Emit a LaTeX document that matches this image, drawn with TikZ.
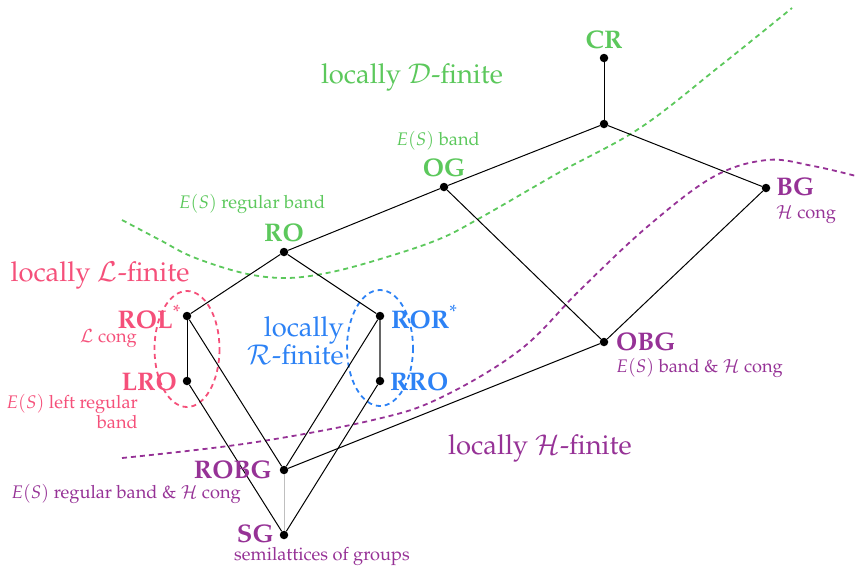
\documentclass[tikz,border=0pt]{standalone}
\usepackage[T1]{fontenc}
\usepackage{mathpazo}
\usetikzlibrary{positioning}
\definecolor{cgreen}{RGB}{92,200,92}
\definecolor{cpink}{RGB}{245,80,122}
\definecolor{cblue}{RGB}{45,130,245}
\definecolor{cpurple}{RGB}{150,50,150}
\tikzset{
  dot/.style={circle,fill=black,inner sep=0pt,minimum size=8.5pt},
  edge/.style={draw=black,line width=1pt},
  bold/.style={font=\fontsize{25.5}{27}\selectfont\bfseries,inner sep=0pt},
  small/.style={font=\fontsize{18.2}{20}\selectfont,inner sep=0pt},
  big/.style={font=\fontsize{27.4}{28}\selectfont,inner sep=0pt},
  bound/.style={line width=1.8pt,dash pattern=on 5pt off 4pt},
}
\begin{document}
\begin{tikzpicture}[x=1pt,y=-1pt]
\useasboundingbox (0,0) rectangle (858,566);
% boundaries
\draw[bound,cgreen] plot[smooth,tension=0.6] coordinates {(122,220) (160,240) (193,257) (243,273) (285,278) (327,273) (377,260) (437,240) (480,218) (560,172) (640,128) (720,66) (792,8)};
\draw[bound,cpurple] plot[smooth,tension=0.6] coordinates {(122,458) (250,443) (373,420) (440,398) (520,350) (580,290) (647,227) (713,177) (767,160) (813,166) (856,176)};
\draw[bound,cpink] (187,349) ellipse [x radius=32.5,y radius=58];
\draw[bound,cblue] (380,348) ellipse [x radius=33,y radius=58];
% nodes
\node[dot] (CR) at (604,58) {};
\node[dot] (J) at (604,124) {};
\node[dot] (OG) at (444,187) {};
\node[dot] (BG) at (766,188) {};
\node[dot] (RO) at (284,252) {};
\node[dot] (ROL) at (187,316) {};
\node[dot] (ROR) at (380,316) {};
\node[dot] (LRO) at (187,381) {};
\node[dot] (RRO) at (380,381) {};
\node[dot] (OBG) at (604,342) {};
\node[dot] (ROBG) at (284,470) {};
\node[dot] (SG) at (284,535) {};
% edges
\draw[edge] (CR) -- (J);
\draw[edge] (J) -- (OG);
\draw[edge] (J) -- (BG);
\draw[edge] (OG) -- (RO);
\draw[edge] (OG) -- (OBG);
\draw[edge] (BG) -- (OBG);
\draw[edge] (RO) -- (ROL);
\draw[edge] (RO) -- (ROR);
\draw[edge] (ROL) -- (LRO);
\draw[edge,draw=black!60,line width=1.4pt] (ROR) -- (RRO);
\draw[edge] (ROL) -- (ROBG);
\draw[edge] (LRO) -- (SG);
\draw[edge] (ROR) -- (ROBG);
\draw[edge] (RRO) -- (SG);
\draw[edge] (ROBG) -- (OBG);
\draw[edge,draw=black!25] (ROBG) -- (SG);
% labels
\node[bold,text=cgreen] (lCR) at (604,40) {CR};
\node[big,text=cgreen] (lD) at (412,77) {locally $\mathcal{D}$-finite};
\node[small,text=cgreen] (lOGs) at (438,141) {$E(S)$ band};
\node[bold,text=cgreen] (lOG) at (444,168) {OG};
\node[small,text=cgreen] (lROs) at (252,204) {$E(S)$ regular band};
\node[bold,text=cgreen] (lRO) at (284,233) {RO};
\node[big,text=cpink] (lL) at (100,275) {locally $\mathcal{L}$-finite};
\node[bold,text=cpink,anchor=east] (lROL) at (181,317) {ROL\textsuperscript{\mdseries*}};
\node[small,text=cpink,anchor=east] (lROLs) at (137,339) {$\mathcal{L}$ cong};
\node[bold,text=cpink,anchor=east] (lLRO) at (177,382) {LRO};
\node[small,text=cpink,anchor=north east,align=right] (lLROs) at (138,394) {$E(S)$ left regular\\band};
\node[big,text=cblue,anchor=east,align=right,font=\fontsize{27.4}{27}\selectfont] (lR) at (344,341) {locally\\$\mathcal{R}$-finite};
\node[bold,text=cblue,anchor=west] (lROR) at (391,317) {ROR\textsuperscript{\mdseries*}};
\node[bold,text=cblue,anchor=west] (lRRO) at (390,382) {RRO};
\node[bold,text=cpurple,anchor=west] (lBG) at (776,187) {BG};
\node[small,text=cpurple,anchor=west] (lBGs) at (776,215) {$\mathcal{H}$ cong};
\node[bold,text=cpurple,anchor=west] (lOBG) at (616,342) {OBG};
\node[small,text=cpurple,anchor=west] (lOBGs) at (616,368) {$E(S)$ band \& $\mathcal{H}$ cong};
\node[big,text=cpurple] (lH) at (540,448) {locally $\mathcal{H}$-finite};
\node[bold,text=cpurple,anchor=east] (lROBG) at (272,470) {ROBG};
\node[small,text=cpurple] (lROBGs) at (126,494) {$E(S)$ regular band \& $\mathcal{H}$ cong};
\node[bold,text=cpurple,anchor=east] (lSG) at (274,534) {SG};
\node[small,text=cpurple] (lSGs) at (322,556) {semilattices of groups};
\end{tikzpicture}
\end{document}
